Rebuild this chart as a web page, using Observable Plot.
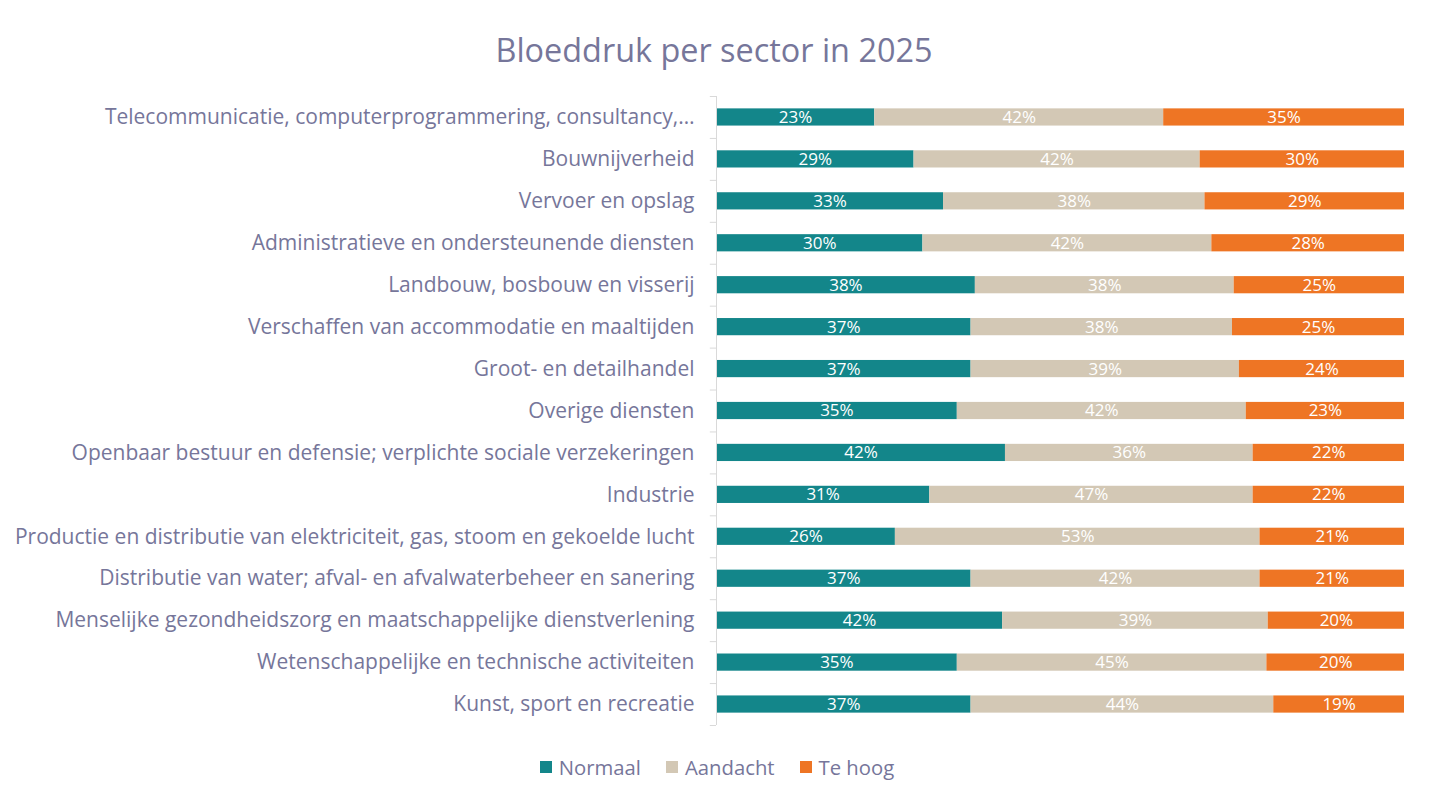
<!DOCTYPE html>
<html>
<head>
<meta charset="utf-8">
<script src="https://cdn.jsdelivr.net/npm/d3@7"></script>
<script src="https://cdn.jsdelivr.net/npm/@observablehq/plot@0.6"></script>
<style>
  body { margin: 0; background: #fff; font-family: "Open Sans", sans-serif; }
  #title { height: 92px; box-sizing: border-box; padding-top: 30px; text-align: center; font-size: 32.4px; color: #76769a; padding-right: 14px; line-height: 1.2; }
  #legend { display: flex; justify-content: center; gap: 25px; margin-top: 22px; font-size: 20.3px; color: #76769a; padding-right: 8px; }
  #legend span.item { display: flex; align-items: center; gap: 7px; }
  #legend span.sw { width: 12px; height: 12px; display: inline-block; }
</style>
</head>
<body>
<div id="title">Bloeddruk per sector in 2025</div>
<div id="chart"></div>
<div id="legend"></div>
<script>
const sectors = [
  "Telecommunicatie, computerprogrammering, consultancy,…",
  "Bouwnijverheid",
  "Vervoer en opslag",
  "Administratieve en ondersteunende diensten",
  "Landbouw, bosbouw en visserij",
  "Verschaffen van accommodatie en maaltijden",
  "Groot- en detailhandel",
  "Overige diensten",
  "Openbaar bestuur en defensie; verplichte sociale verzekeringen",
  "Industrie",
  "Productie en distributie van elektriciteit, gas, stoom en gekoelde lucht",
  "Distributie van water; afval- en afvalwaterbeheer en sanering",
  "Menselijke gezondheidszorg en maatschappelijke dienstverlening",
  "Wetenschappelijke en technische activiteiten",
  "Kunst, sport en recreatie"
];
const normaal  = [23, 29, 33, 30, 38, 37, 37, 35, 42, 31, 26, 37, 42, 35, 37];
const aandacht = [42, 42, 38, 42, 38, 38, 39, 42, 36, 47, 53, 42, 39, 45, 44];
const teHoog   = [35, 30, 29, 28, 25, 25, 24, 23, 22, 22, 21, 21, 20, 20, 19];
const statuses = ["Normaal", "Aandacht", "Te hoog"];
const colors = ["#13868a", "#d3c8b5", "#ee7524"];

const series = [normaal, aandacht, teHoog];
const data = sectors.flatMap((s, i) => statuses.map((st, k) => ({sector: s, status: st, value: series[k][i]})));

const marginTop = 4, marginBottom = 6, frameH = 629;
const height = marginTop + frameH + marginBottom;
const step = frameH / sectors.length;
const textColor = "#76769a";
const axisColor = "#d9d9d9";

const chart = Plot.plot({
  width: 1442,
  height,
  marginLeft: 716,
  marginRight: 38,
  marginTop,
  marginBottom,
  style: {fontFamily: "'Open Sans', sans-serif", background: "white"},
  x: {domain: [0, 1], axis: null},
  y: {domain: sectors, paddingInner: 0.59, paddingOuter: 0.295, round: false, label: null, tickSize: 0, tickPadding: 22},
  color: {domain: statuses, range: colors},
  marks: [
    Plot.barX(data, Plot.stackX({x: "value", y: "sector", fill: "status", order: statuses, offset: "normalize"})),
    Plot.text(data, Plot.stackX({x: "value", y: "sector", z: "status", order: statuses, offset: "normalize",
      text: d => d.value + "%", fill: "white", fontSize: 17})),
    Plot.ruleX([0], {stroke: axisColor}),
    Plot.ruleY(sectors, {y: d => d, x1: -0.009, x2: 0, dy: -step / 2, stroke: axisColor}),
    Plot.ruleY(sectors.slice(-1), {y: d => d, x1: -0.009, x2: 0, dy: step / 2, stroke: axisColor}),
    Plot.axisY({tickSize: 0, tickPadding: 22, fontSize: 21, fill: textColor, label: null})
  ]
});
document.getElementById("chart").appendChild(chart);

const legend = document.getElementById("legend");
statuses.forEach((st, k) => {
  const it = document.createElement("span");
  it.className = "item";
  it.innerHTML = `<span class="sw" style="background:${colors[k]}"></span><span>${st}</span>`;
  legend.appendChild(it);
});
</script>
</body>
</html>
